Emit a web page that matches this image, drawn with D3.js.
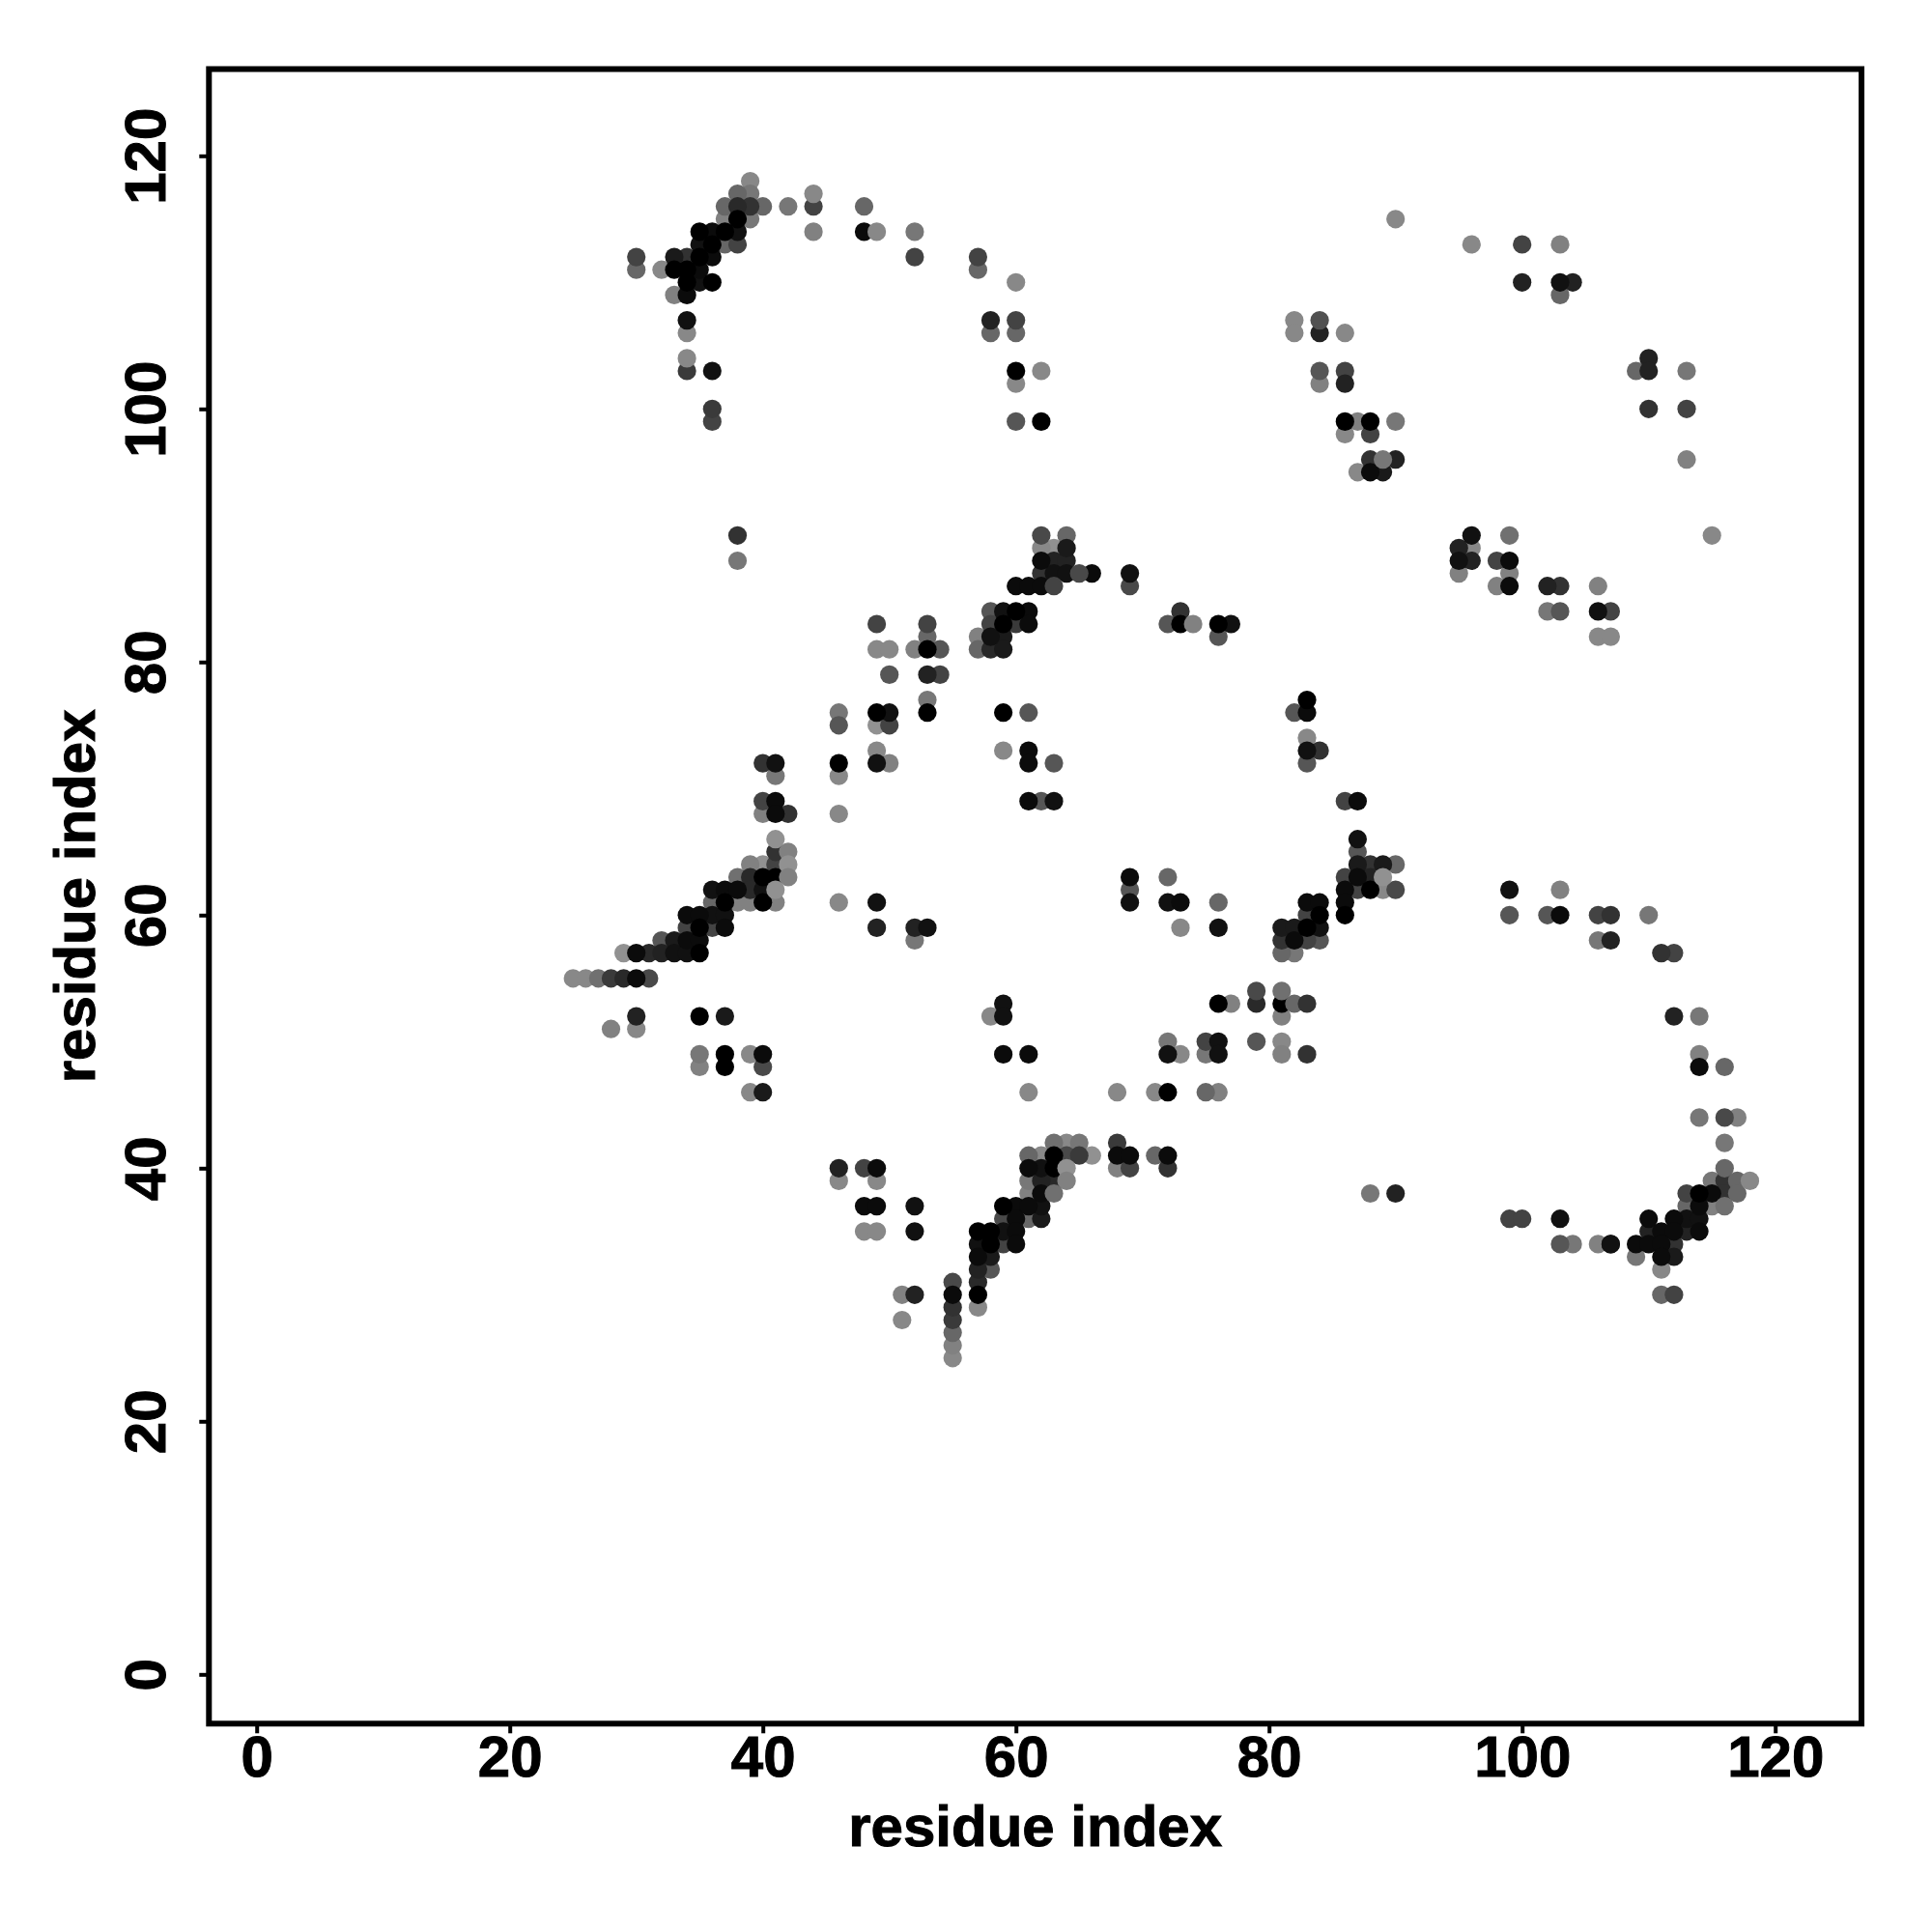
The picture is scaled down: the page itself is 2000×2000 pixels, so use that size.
<!DOCTYPE html>
<html>
<head>
<meta charset="utf-8">
<script src="https://cdn.jsdelivr.net/npm/d3@7/dist/d3.min.js"></script>
<style>html,body{margin:0;padding:0;background:#fff}svg{display:block}</style>
</head>
<body>
<div id="chart"></div>
<script>
// Each contact: [residue i, residue j, contact score 0-100]
const upperLeftArc = [
[30,112,56],[30,111,33],[32,111,11],[33,112,83],[33,111,100],[33,109,16],[34,112,67],[34,111,100],[34,110,100],[34,109,93],[34,107,89],[34,106,11],[34,103,62],
[35,114,100],[35,113,89],[35,112,100],[35,111,93],[35,110,89],[36,114,93],[36,113,100],[36,112,93],[36,110,100],[36,103,89],[36,100,62],[36,99,56],
[37,116,33],[37,115,16],[37,114,100],[37,113,33],[38,117,33],[38,116,73],[38,115,100],[38,114,89],[38,113,56],[39,118,11],[39,117,22],[39,116,67],[39,115,22],
[40,116,33],[42,116,22],[44,116,56],[44,114,16],[48,116,33],[48,114,93],[52,114,22],[52,112,56],[57,112,56],[57,111,33],
[58,107,78],[58,106,33],[60,110,11],[60,107,56],[60,106,33],[60,103,100],[62,103,11],[60,102,11],[60,99,44],[62,99,100],[38,90,67],[38,88,22]
];
const upperRightArc = [
[82,107,11],[82,106,11],[84,106,78],[86,106,11],[84,103,44],[84,102,16],[86,103,56],[86,102,78],[86,99,100],[86,98,11],[87,99,16],[88,99,100],[88,98,56],[90,99,22],
[88,96,67],[90,96,78],[87,95,11],[88,95,93],[89,95,83],[90,115,11],[96,113,11],[100,113,56],[103,113,16],[100,110,78],[103,110,89],[104,110,78],[103,109,33],
[110,104,78],[109,103,33],[110,103,78],[113,103,22],[110,100,67],[113,100,56],[113,96,16],[115,90,11],
[95,89,78],[95,88,89],[95,87,16],[96,90,89],[96,89,11],[96,88,78],[98,88,56],[98,86,16],[99,90,27],[99,88,93],[99,87,16],[99,86,93],[102,86,78],[102,84,22],[103,86,67],[103,84,44],
[106,86,16],[106,84,89],[106,82,11],[107,84,56],[107,82,11]
];
const leftBand = [
[40,72,67],[41,72,89],[41,71,22],[40,69,56],[41,69,93],[40,68,16],[41,68,93],[42,68,67],[41,65,67],[39,64,16],[40,64,5],[41,64,56],
[38,63,27],[39,63,73],[40,63,100],[41,63,100],[36,62,89],[37,62,93],[38,62,93],[39,62,73],[40,62,89],[36,61,33],[37,61,100],[38,61,16],[39,61,16],[40,61,100],[41,61,16],
[34,60,93],[35,60,93],[36,60,89],[37,60,89],[34,59,56],[35,59,100],[36,59,56],[37,59,93],[32,58,44],[33,58,83],[34,58,93],[35,58,93],
[29,57,5],[30,57,93],[31,57,73],[32,57,78],[33,57,89],[34,57,89],[35,57,100],[25,55,11],[26,55,11],[27,55,27],[28,55,62],[29,55,73],[30,55,93],[31,55,52],
[30,52,78],[35,52,100],[37,52,83],[28,51,16],[30,51,11],[35,49,22],[37,49,100],[39,49,11],[40,49,93],[35,48,16],[37,48,100],[40,48,52],[39,46,11],[40,46,83]
];
const middleArc = [
[46,76,22],[46,75,44],[46,72,100],[46,71,11],[46,68,11],[46,61,11],[49,83,56],[49,81,11],[49,76,100],[49,75,5],[49,73,11],[49,72,89],[49,61,89],[49,59,78],
[50,81,11],[50,79,44],[50,76,89],[50,75,56],[50,72,16],[52,81,16],[52,59,78],[52,58,22],[53,83,56],[53,82,33],[53,81,100],[53,79,78],[53,77,22],[53,76,100],[53,59,89],[54,81,44],[54,79,56],
[62,90,52],[64,90,33],[62,89,11],[63,89,5],[64,89,83],[62,88,93],[63,88,78],[64,88,78],[62,87,67],[63,87,89],[64,87,89],[66,87,93],[60,86,93],[61,86,93],[62,86,93],
[58,84,44],[59,84,89],[60,84,100],[61,84,93],[58,83,56],[59,83,100],[60,83,62],[61,83,93],[57,82,16],[58,82,89],[59,82,83],[57,81,33],[58,81,73],[59,81,83],
[69,87,89],[69,86,52],[73,84,67],[72,83,44],[73,83,100],[76,83,100],[77,83,89],[76,82,44],
[59,76,100],[59,73,11],[61,76,44],[61,73,93],[61,72,93],[61,69,93],[62,69,44],[63,72,44],[63,69,89],
[82,76,44],[83,77,100],[83,76,93],[83,74,11],[83,73,89],[83,72,44],[84,73,67],[86,69,56],[87,69,93]
];
const rightBand = [
[87,66,89],[87,65,44],[87,64,83],[88,64,67],[89,64,83],[90,64,33],[86,63,56],[87,63,93],[88,63,78],[86,62,93],[87,62,56],[88,62,100],[89,62,11],[90,62,52],
[83,61,93],[84,61,93],[86,61,93],[83,60,56],[84,60,100],[86,60,100],[81,59,83],[82,59,83],[83,59,100],[84,59,89],[81,58,67],[82,58,93],[83,58,56],[84,58,44],[81,57,33],[82,57,22],
[69,63,93],[69,62,44],[69,61,89],[72,63,33],[72,61,89],[73,61,93],[73,59,11],[76,61,33],[76,59,89]
];
const lowerMiddle = [
[58,52,11],[59,53,89],[59,52,89],[59,49,93],[61,49,93],[61,46,11],[68,46,11],[71,46,11],[72,50,22],[72,49,89],[72,46,100],[73,49,11],[75,50,56],[75,49,22],[75,46,33],
[76,53,100],[76,50,89],[76,49,89],[76,46,16],[77,53,16],[79,53,73],[79,50,44],[81,52,16],[81,53,100],[81,50,11],[81,49,16],[83,49,67]
];
const lowerBand = [
[63,42,27],[64,42,11],[65,42,22],[61,41,33],[62,41,11],[63,41,100],[64,41,52],[65,41,62],[66,41,5],[61,40,93],[62,40,89],[63,40,100],
[61,39,22],[62,39,78],[63,39,73],[61,38,16],[62,38,93],[59,37,100],[60,37,93],[61,37,93],[62,37,89],[59,36,52],[60,36,93],[61,36,33],[62,36,83],
[57,35,100],[58,35,100],[59,35,89],[60,35,93],[57,34,89],[58,34,100],[59,34,56],[60,34,93],[57,33,93],[58,33,83],[57,32,78],[58,32,44],[55,31,52],[57,31,73],[55,30,93],[57,30,100],[55,29,67],[57,29,11],[55,28,62],[55,27,33],[55,26,16],[55,25,11],
[68,42,62],[68,41,93],[69,41,93],[71,41,33],[72,41,93],[68,40,16],[69,40,56],[72,40,67],
[46,40,78],[46,39,11],[48,40,56],[48,37,93],[48,35,11],[49,40,93],[49,39,11],[49,37,93],[49,35,11],[52,37,89],[52,35,89],[51,30,16],[51,28,11],[52,30,78]
];
const lowerRightArc = [
[99,62,89],[99,60,44],[102,60,44],[103,62,16],[103,60,93],[106,60,56],[106,58,22],[107,60,67],[107,58,78],[110,60,22],[111,57,67],[112,57,56],[112,52,78],[114,52,22],[114,49,16],[114,48,93],[114,44,22],[116,48,33],[116,44,52],[116,42,22],[117,44,16],
[115,39,22],[116,39,67],[113,38,56],[114,38,100],[115,38,93],[116,38,67],[113,37,33],[114,37,93],[115,37,16],
[110,36,93],[112,36,93],[113,36,89],[114,36,89],[110,35,78],[111,35,93],[112,35,93],[113,35,78],[114,35,93],[107,34,89],[109,34,93],[110,34,93],[111,34,93],[112,34,67],[109,33,22],[111,33,93],[112,33,83],[111,32,11],[111,30,33],[112,30,56],
[88,38,22],[90,38,78],[99,36,56],[100,36,56],[103,36,89],[103,34,44],[104,34,22],[106,34,16],[107,34,89]
];
// Contacts that sit on top of their neighbours, in drawing order
const overlaidContacts = [
[34,104,11],[84,107,47],[89,96,22],[44,117,11],[49,114,11],[82,53,33],[83,53,67],[81,54,27],[79,54,52],
[64,40,5],[64,39,16],[63,38,27],[41,66,5],[42,65,16],[42,64,5],[42,63,16],[41,62,5],[65,87,52],[63,86,56],[74,83,16],
[116,40,33],[117,39,33],[117,38,33],[118,39,11],[116,37,27],[89,63,5]
];
const tickValues = [0,20,40,60,80,100,120];
const axisTitle = "residue index";

const W = 2000, H = 2000;
const frame = {left:216.3, right:1927, top:71.5, bottom:1784.3};
const unit = 13.1, x0 = 265.7, y0 = 1733.3;
const x = d3.scaleLinear()
  .domain([(frame.left-x0)/unit, (frame.right-x0)/unit]).range([frame.left, frame.right]);
const y = d3.scaleLinear()
  .domain([(y0-frame.bottom)/unit, (y0-frame.top)/unit]).range([frame.bottom, frame.top]);
const shade = d3.scaleLinear().domain([0,100]).range([153,0]);

const svg = d3.select("#chart").append("svg").attr("width",W).attr("height",H).attr("viewBox",`0 0 ${W} ${H}`);
svg.append("rect").attr("width",W).attr("height",H).attr("fill","#fff");

const base = d3.sort(
  [].concat(upperLeftArc, upperRightArc, leftBand, middleArc, rightBand, lowerMiddle, lowerBand, lowerRightArc),
  d => d[2]);
const contacts = base.concat(overlaidContacts);

svg.append("g").selectAll("circle").data(contacts).join("circle")
  .attr("cx", d => x(d[0])).attr("cy", d => y(d[1])).attr("r", 9.6)
  .attr("fill", d => { const g = Math.round(shade(d[2])); return `rgb(${g},${g},${g})`; });

const font = "'Liberation Sans', Arial, sans-serif";
const xAxis = svg.append("g").attr("transform",`translate(0,${frame.bottom})`)
  .call(d3.axisBottom(x).tickValues(tickValues).tickSize(10).tickFormat(d3.format("d")));
const yAxis = svg.append("g").attr("transform",`translate(${frame.left},0)`)
  .call(d3.axisLeft(y).tickValues(tickValues).tickSize(10).tickFormat(d3.format("d")));
[xAxis,yAxis].forEach(a => {
  a.select(".domain").remove();
  a.selectAll("line").attr("stroke","#000").attr("stroke-width",4);
  a.selectAll("text").attr("fill","#000").attr("stroke","#000").attr("stroke-width",1)
    .style("font-family",font).style("font-weight","700").style("font-size","60px");
});
xAxis.selectAll("text").attr("dy",null).attr("y",1839-frame.bottom).attr("text-anchor","middle");
yAxis.selectAll("text").attr("dy",null).attr("x",null).attr("y",null)
  .attr("text-anchor","middle")
  .attr("transform", `translate(${171-frame.left},0) rotate(-90)`);

svg.append("rect").attr("x",frame.left).attr("y",frame.top)
  .attr("width",frame.right-frame.left).attr("height",frame.bottom-frame.top)
  .attr("fill","none").attr("stroke","#000").attr("stroke-width",6);

svg.append("text").attr("x",(frame.left+frame.right)/2).attr("y",1911).attr("text-anchor","middle")
  .attr("stroke","#000").attr("stroke-width",1)
  .style("font-family",font).style("font-weight","700").style("font-size","60px").text(axisTitle);
svg.append("text").attr("transform",`translate(98,${(frame.top+frame.bottom)/2}) rotate(-90)`).attr("text-anchor","middle")
  .attr("stroke","#000").attr("stroke-width",1)
  .style("font-family",font).style("font-weight","700").style("font-size","60px").text(axisTitle);
</script>
</body>
</html>
